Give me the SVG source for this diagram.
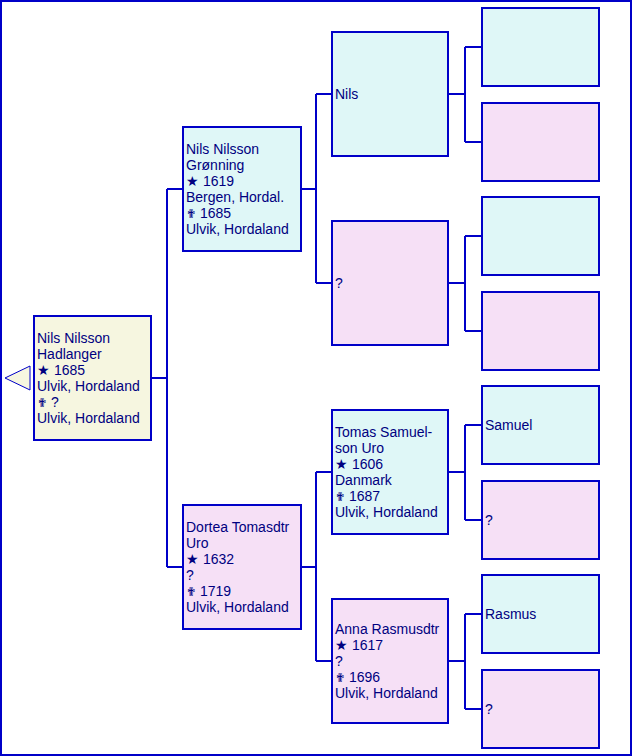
<svg xmlns="http://www.w3.org/2000/svg" width="632" height="756" viewBox="0 0 632 756">
<style>
.b{stroke:#0000c8;stroke-width:2}
.m{fill:#dff7f7}
.f{fill:#f6e0f6}
.r{fill:#f6f6e0}
text{font-family:"Liberation Sans",Arial,sans-serif;font-size:14px;fill:#000080}
.x{font-family:"DejaVu Sans",sans-serif;font-size:12px}
.c{fill:none;stroke:#0000c8;stroke-width:2}
</style>
<rect x="1" y="1" width="630" height="754" fill="#ffffff" class="b"/>
<g id="connectors">
<path class="c" d="M151 378H167M167 189V567M167 189H183M167 567H183"/>
<path class="c" d="M301 189H316M316 94V283M316 94H332M316 283H332"/>
<path class="c" d="M301 567H316M316 472V661M316 472H332M316 661H332"/>
<path class="c" d="M448 94H465M465 47V142M465 47H482M465 142H482"/>
<path class="c" d="M448 283H465M465 236V331M465 236H482M465 331H482"/>
<path class="c" d="M448 472H465M465 425V520M465 425H482M465 520H482"/>
<path class="c" d="M448 661H465M465 614V709M465 614H482M465 709H482"/>
</g>
<g id="root">
<polygon points="5,378 30,366 30,390" fill="#f6f6e0" stroke="#0000c8" stroke-width="1"/>
<rect x="34" y="316" width="117" height="124" class="b r"/>
<text x="37" y="343">Nils Nilsson</text>
<text x="37" y="359">Hadlanger</text>
<text x="37" y="375">★ 1685</text>
<text x="37" y="391">Ulvik, Hordaland</text>
<text x="37" y="407"><tspan class="x">✟</tspan> ?</text>
<text x="37" y="423">Ulvik, Hordaland</text>
</g>
<g id="father">
<rect x="183" y="127" width="118" height="124" class="b m"/>
<text x="186" y="154">Nils Nilsson</text>
<text x="186" y="170">Grønning</text>
<text x="186" y="186">★ 1619</text>
<text x="186" y="202">Bergen, Hordal.</text>
<text x="186" y="218"><tspan class="x">✟</tspan> 1685</text>
<text x="186" y="234">Ulvik, Hordaland</text>
</g>
<g id="mother">
<rect x="183" y="505" width="118" height="124" class="b f"/>
<text x="186" y="532">Dortea Tomasdtr</text>
<text x="186" y="548">Uro</text>
<text x="186" y="564">★ 1632</text>
<text x="186" y="580">?</text>
<text x="186" y="596"><tspan class="x">✟</tspan> 1719</text>
<text x="186" y="612">Ulvik, Hordaland</text>
</g>
<g id="ff">
<rect x="332" y="32" width="116" height="124" class="b m"/>
<text x="335" y="99">Nils</text>
</g>
<g id="fm">
<rect x="332" y="221" width="116" height="124" class="b f"/>
<text x="335" y="288">?</text>
</g>
<g id="mf">
<rect x="332" y="410" width="116" height="124" class="b m"/>
<text x="335" y="437">Tomas Samuel-</text>
<text x="335" y="453">son Uro</text>
<text x="335" y="469">★ 1606</text>
<text x="335" y="485">Danmark</text>
<text x="335" y="501"><tspan class="x">✟</tspan> 1687</text>
<text x="335" y="517">Ulvik, Hordaland</text>
</g>
<g id="mm">
<rect x="332" y="599" width="116" height="124" class="b f"/>
<text x="335" y="634">Anna Rasmusdtr</text>
<text x="335" y="650">★ 1617</text>
<text x="335" y="666">?</text>
<text x="335" y="682"><tspan class="x">✟</tspan> 1696</text>
<text x="335" y="698">Ulvik, Hordaland</text>
</g>
<g id="fff"><rect x="482" y="8" width="117" height="78" class="b m"/></g>
<g id="ffm"><rect x="482" y="103" width="117" height="78" class="b f"/></g>
<g id="fmf"><rect x="482" y="197" width="117" height="78" class="b m"/></g>
<g id="fmm"><rect x="482" y="292" width="117" height="78" class="b f"/></g>
<g id="mff"><rect x="482" y="386" width="117" height="78" class="b m"/><text x="485" y="430">Samuel</text></g>
<g id="mfm"><rect x="482" y="481" width="117" height="78" class="b f"/><text x="485" y="525">?</text></g>
<g id="mmf"><rect x="482" y="575" width="117" height="78" class="b m"/><text x="485" y="619">Rasmus</text></g>
<g id="mmm"><rect x="482" y="670" width="117" height="78" class="b f"/><text x="485" y="714">?</text></g>
</svg>
